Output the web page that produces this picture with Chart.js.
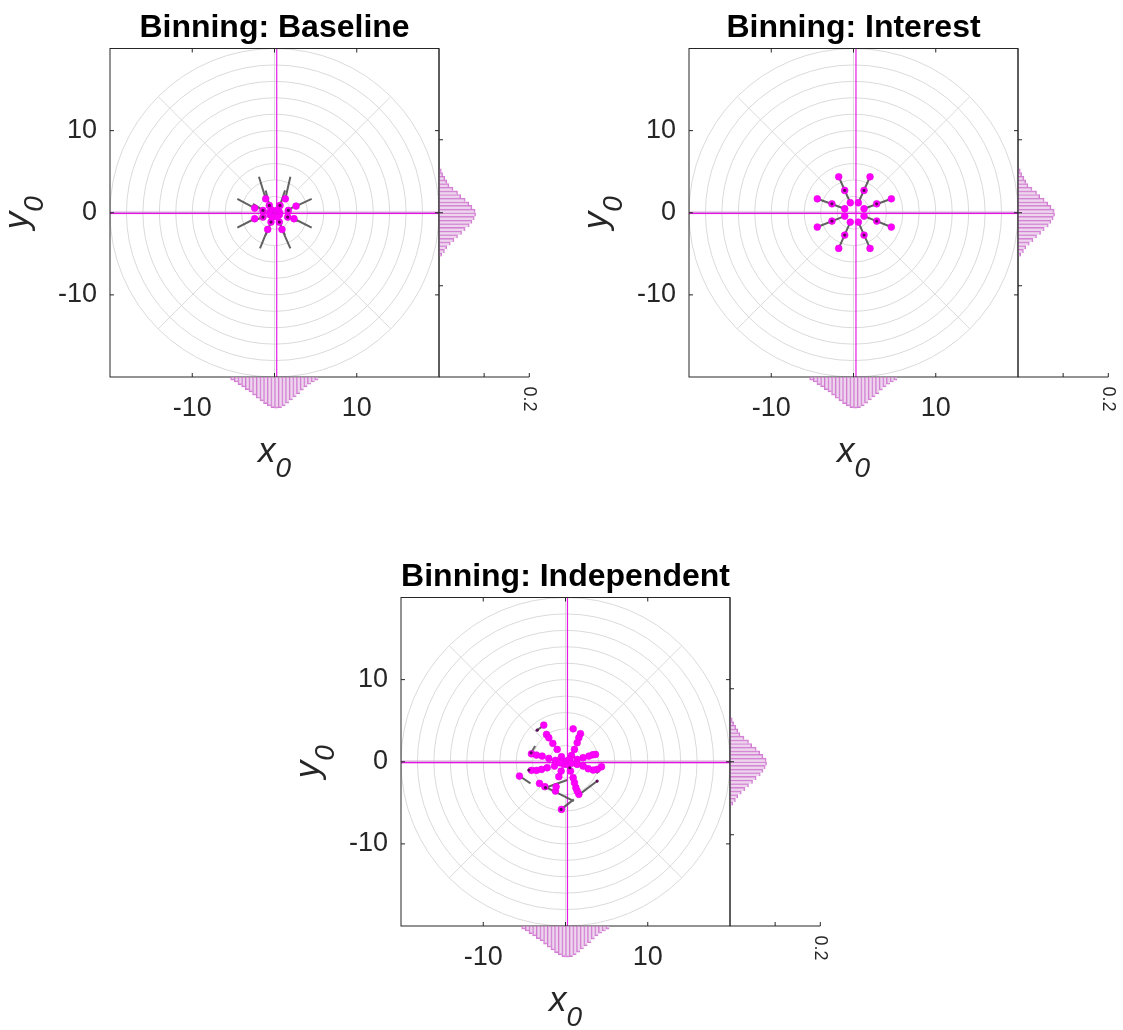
<!DOCTYPE html>
<html>
<head>
<meta charset="utf-8">
<script src="https://cdn.jsdelivr.net/npm/chart.js@4.4.1/dist/chart.umd.min.js"></script>
<style>
  html, body { margin: 0; padding: 0; background: #fff; }
  body { width: 1123px; height: 1030px; position: relative; overflow: hidden; }
  .panel { position: absolute; width: 560px; height: 500px; }
  .panel canvas { position: absolute; }
</style>
</head>
<body>
<div class="panel" id="p1" style="left:0px;top:0px"></div>
<div class="panel" id="p2" style="left:579px;top:0px"></div>
<div class="panel" id="p3" style="left:290.5px;top:549px"></div>
<script>
// ---- polar reference grid and axis ticks ----
const gridRadii = [2, 4, 6, 8, 10, 12, 14, 16, 18, 20];
const spokeAngles = [0, 45, 90, 135, 180, 225, 270, 315];
const spokeInner = 4;
const axisTicks = [-10, 0, 10];
const histTicks = [0.1, 0.2];
const histTickLabel = 0.2;

// ---- marginal histograms (bin centres, probability per bin) ----
const binCenters = [-5.75, -5.25, -4.75, -4.25, -3.75, -3.25, -2.75, -2.25, -1.75, -1.25, -0.75, -0.25,
                     0.25, 0.75, 1.25, 1.75, 2.25, 2.75, 3.25, 3.75, 4.25, 4.75, 5.25, 5.75];
const yHist = [0.006, 0.012, 0.017, 0.025, 0.033, 0.041, 0.050, 0.058, 0.067, 0.073, 0.078, 0.081,
               0.080, 0.073, 0.066, 0.058, 0.048, 0.041, 0.031, 0.022, 0.017, 0.013, 0.008, 0.005];
const xHist = [0.007, 0.011, 0.017, 0.022, 0.028, 0.033, 0.040, 0.047, 0.053, 0.059, 0.064, 0.068,
               0.069, 0.068, 0.064, 0.058, 0.051, 0.044, 0.037, 0.029, 0.022, 0.016, 0.011, 0.007];

// ---- Baseline ----
const baselineX = [-1.07, 1.32, -2.41, 2.62, -2.41, 2.37, -0.83, 0.91,
                   -0.63, 0.67, -1.40, 1.68, -1.40, 1.60, -0.43, 0.59,
                   -0.34, 0.34, -0.55, 0.59, -0.55, 0.59, -0.26, 0.34];
const baselineY = [1.70, 1.70, 0.57, 0.81, -0.73, -0.73, -2.03, -2.03,
                   0.89, 0.89, 0.28, 0.28, -0.53, -0.53, -1.14, -1.14,
                   0.32, 0.32, 0.08, 0.08, -0.24, -0.24, -0.53, -0.53];
const baselineDarkX = [-0.63, 0.67, -1.40, 1.68, -1.40, 1.60, -0.43, 0.59];
const baselineDarkY = [0.89, 0.89, 0.28, 0.28, -0.53, -0.53, -1.14, -1.14];
const baselineSegs = [
  [-1.89, 4.38, -1.07, 1.70], [1.93, 4.38, 1.32, 1.70],
  [-4.52, 1.70, -2.41, 0.57], [4.52, 1.70, 2.62, 0.81],
  [-4.52, -1.82, -2.41, -0.73], [4.52, -1.82, 2.37, -0.73],
  [-1.76, -4.34, -0.83, -2.03], [1.93, -4.34, 0.91, -2.03],
  [-1.07, 2.72, -0.63, 0.89], [1.28, 2.72, 0.67, 0.89],
  [-2.62, 1.09, -1.40, 0.28], [2.82, 1.09, 1.68, 0.28],
  [-2.62, -1.01, -1.40, -0.53], [2.82, -1.01, 1.60, -0.53],
  [-1.07, -2.72, -0.43, -1.14], [1.28, -2.72, 0.59, -1.14]
];
const baselineMean = [0.27, -0.08];

// ---- Interest ----
const interestX = [-1.80, 2.01, -4.40, 4.60, -4.40, 4.60, -1.80, 2.01,
                   -1.07, 1.28, -2.62, 2.82, -2.62, 2.82, -1.07, 1.28,
                   -0.39, 0.59, -1.07, 1.28, -1.07, 1.28, -0.39, 0.59];
const interestY = [4.38, 4.38, 1.70, 1.70, -1.74, -1.74, -4.34, -4.34,
                   2.72, 2.72, 1.09, 1.09, -1.01, -1.01, -2.72, -2.72,
                   1.22, 1.22, 0.49, 0.49, -0.41, -0.41, -1.14, -1.14];
const interestDarkX = [-1.07, 1.28, -2.62, 2.82, -2.62, 2.82, -1.07, 1.28];
const interestDarkY = [2.72, 2.72, 1.09, 1.09, -1.01, -1.01, -2.72, -2.72];
const interestSegs = [
  [-1.80, 4.38, -0.39, 1.22], [2.01, 4.38, 0.59, 1.22],
  [-4.40, 1.70, -1.07, 0.49], [4.60, 1.70, 1.28, 0.49],
  [-4.40, -1.74, -1.07, -0.41], [4.60, -1.74, 1.28, -0.41],
  [-1.80, -4.34, -0.39, -1.14], [2.01, -4.34, 0.59, -1.14]
];
const interestMean = [0.30, -0.08];

// ---- Independent ----
const independentX = [-2.64, -2.31, -2.03, -1.54, -1.01, -0.49,
                      0.93, 1.82, 1.62, 1.42, 1.09, 0.73,
                      -4.14, -3.53, -2.84, -2.03, -1.22,
                      3.65, 3.33, 2.84, 2.15, 1.42,
                      -4.14, -3.53, -2.92, -2.23, -1.34,
                      4.38, 3.85, 3.37, 2.76, 2.15, 1.42,
                      -5.60, -3.16, -2.51, -1.22, -1.14, -0.81, -0.53,
                      -0.49, 1.62, 1.42, 1.26, 1.09, 0.93, 0.61,
                      -0.41, 0.08, 0.49, -0.20, 0.28, -0.69, 0.69];
const independentY = [4.46, 3.33, 2.92, 2.23, 1.50, 0.61,
                      4.01, 3.41, 2.92, 2.31, 1.50, 0.77,
                      0.97, 0.81, 0.69, 0.41, 0.16,
                      0.89, 0.85, 0.69, 0.49, 0.28,
                      -1.05, -1.05, -0.93, -0.73, -0.53,
                      -0.61, -0.93, -1.01, -0.85, -0.53, -0.32,
                      -1.74, -2.64, -3.04, -3.57, -3.04, -1.82, -1.14,
                      -5.80, -3.97, -3.57, -3.16, -2.55, -1.95, -1.14,
                      0.08, 0.08, 0.28, -0.32, -0.32, -0.12, -0.20];
const independentDarkX = [-3.45, -4.18, -4.46, -2.43, -0.53, 3.85, 0.53];
const independentDarkY = [3.85, 1.09, -1.01, -3.16, -5.80, -2.35, -0.73];
const independentSegs = [
  [-3.45, 3.85, -2.76, 4.34], [-4.18, 1.09, -3.69, 1.91],
  [-4.46, -1.01, -3.73, -1.09], [-5.60, -1.74, -4.26, -2.64],
  [-2.43, -3.16, 0.20, -2.23], [-2.51, -3.04, 1.01, -4.79],
  [-0.53, -5.80, 1.01, -4.58], [1.42, -4.18, 3.85, -2.35],
  [3.77, -1.42, 4.38, -0.73], [0.53, -0.73, 0.69, -1.42]
];
const independentMean = [0.24, -0.10];

// ---- styling ----
const FONT = "'Liberation Sans', Arial, Helvetica, sans-serif";
const INK = '#262626';
const MAGENTA = '#ff00ff';
const HIST_FILL = 'rgba(222, 178, 222, 0.55)';
const HIST_EDGE = 'rgba(200, 90, 200, 0.8)';

const MAIN_W = 450, MAIN_H = 490;
const BOX_L = 110, BOX_R = 439, BOX_T = 48.5, BOX_B = 377;
const TITLE_SIZE = 32, TITLE_PAD_TOP = 8.6;

function toXY(xs, ys) { return xs.map((v, i) => ({ x: v, y: ys[i] })); }
function segPoints(segs) {
  const out = [];
  segs.forEach(s => { out.push({ x: s[0], y: s[1] }, { x: s[2], y: s[3] }, { x: null, y: null }); });
  return out;
}
function makeCanvas(parent, left, top, w, h) {
  const c = document.createElement('canvas');
  c.width = w; c.height = h;
  c.style.left = left + 'px'; c.style.top = top + 'px';
  c.style.width = w + 'px'; c.style.height = h + 'px';
  parent.appendChild(c);
  return c;
}

// concentric circles and spokes behind the data
const polarGrid = {
  id: 'polarGrid',
  beforeDatasetsDraw(chart) {
    const { ctx, chartArea: a, scales: { x, y } } = chart;
    ctx.save();
    ctx.beginPath(); ctx.rect(a.left, a.top, a.width, a.height); ctx.clip();
    ctx.strokeStyle = '#dadada'; ctx.lineWidth = 1;
    const cx = x.getPixelForValue(0), cy = y.getPixelForValue(0);
    gridRadii.forEach(r => {
      const rx = x.getPixelForValue(r) - cx, ry = cy - y.getPixelForValue(r);
      ctx.beginPath(); ctx.ellipse(cx, cy, rx, ry, 0, 0, Math.PI * 2); ctx.stroke();
    });
    const rMax = gridRadii[gridRadii.length - 1];
    spokeAngles.forEach(d => {
      const t = d * Math.PI / 180, c = Math.cos(t), s = Math.sin(t);
      ctx.beginPath();
      ctx.moveTo(x.getPixelForValue(spokeInner * c), y.getPixelForValue(spokeInner * s));
      ctx.lineTo(x.getPixelForValue(rMax * c), y.getPixelForValue(rMax * s));
      ctx.stroke();
    });
    ctx.restore();
  }
};

// box, inward tick marks and subscripted axis titles
const frame = {
  id: 'frame',
  afterDraw(chart) {
    const { ctx, chartArea: a, scales: { x, y } } = chart;
    ctx.save();
    ctx.strokeStyle = INK; ctx.lineWidth = 1;
    ctx.strokeRect(a.left, a.top, a.width, a.height);
    const tl = 4;
    ctx.beginPath();
    axisTicks.forEach(v => {
      const px = x.getPixelForValue(v), py = y.getPixelForValue(v);
      ctx.moveTo(px, a.bottom); ctx.lineTo(px, a.bottom - tl);
      ctx.moveTo(px, a.top); ctx.lineTo(px, a.top + tl);
      ctx.moveTo(a.left, py); ctx.lineTo(a.left + tl, py);
      ctx.moveTo(a.right, py); ctx.lineTo(a.right - tl, py);
    });
    ctx.stroke();

    ctx.fillStyle = INK;
    ctx.textBaseline = 'alphabetic'; ctx.textAlign = 'left';
    const drawSub = (main, sub) => {
      ctx.font = 'italic 35px ' + FONT;
      const w1 = ctx.measureText(main).width;
      ctx.font = 'italic 28px ' + FONT;
      const w2 = ctx.measureText(sub).width;
      const x0 = -(w1 + w2) / 2;
      ctx.font = 'italic 35px ' + FONT;
      ctx.fillText(main, x0, 0);
      ctx.font = 'italic 28px ' + FONT;
      ctx.fillText(sub, x0 + w1, 15);
    };
    const cx = (a.left + a.right) / 2, cy = (a.top + a.bottom) / 2;
    ctx.save(); ctx.translate(cx, a.bottom + 84.7); drawSub('x', '0'); ctx.restore();
    ctx.save(); ctx.translate(28.3, cy); ctx.rotate(-Math.PI / 2); drawSub('y', '0'); ctx.restore();
    ctx.restore();
  }
};

function mainChart(parent, title, xs, ys, dxs, dys, segs, mean) {
  const c = makeCanvas(parent, 0, 0, MAIN_W, MAIN_H);
  return new Chart(c, {
    type: 'scatter',
    data: {
      datasets: [
        { type: 'line', data: [{ x: mean[0], y: -20 }, { x: mean[0], y: 20 }], borderColor: 'rgba(230,0,230,0.9)', borderWidth: 1.2, pointRadius: 0, order: 5 },
        { type: 'line', data: [{ x: -20, y: 0 }, { x: 20, y: 0 }], borderColor: 'rgba(200,120,200,0.45)', borderWidth: 3, pointRadius: 0, order: 6 },
        { type: 'line', data: [{ x: -20, y: mean[1] }, { x: 20, y: mean[1] }], borderColor: 'rgba(230,0,230,0.9)', borderWidth: 1.2, pointRadius: 0, order: 5 },
        { type: 'line', data: segPoints(segs), borderColor: 'rgba(70,70,70,0.85)', borderWidth: 2, pointRadius: 0, spanGaps: false, order: 3 },
        { data: toXY(xs, ys), pointRadius: 3.4, pointBackgroundColor: MAGENTA, pointBorderColor: '#e000e0', pointBorderWidth: 0.6, order: 2 },
        { data: toXY(dxs, dys), pointRadius: 1.6, pointBackgroundColor: '#5a0a5a', pointBorderWidth: 0, order: 1 }
      ]
    },
    options: {
      responsive: false, animation: false, devicePixelRatio: 1,
      layout: { padding: { left: 0, right: MAIN_W - BOX_R, top: 0, bottom: 0 } },
      plugins: {
        legend: { display: false }, tooltip: { enabled: false },
        title: {
          display: true, text: title, fullSize: false, color: '#000',
          font: { family: FONT, size: TITLE_SIZE, weight: 'bold', lineHeight: 1.2 },
          padding: { top: TITLE_PAD_TOP, bottom: BOX_T - TITLE_PAD_TOP - TITLE_SIZE * 1.2 }
        }
      },
      scales: {
        x: {
          type: 'linear', min: -20, max: 20,
          afterBuildTicks: s => { s.ticks = axisTicks.map(v => ({ value: v })); },
          afterFit: s => { s.height = MAIN_H - BOX_B; },
          grid: { display: false, drawTicks: false }, border: { display: false },
          ticks: { font: { family: FONT, size: 27 }, color: INK, padding: 15, maxRotation: 0, autoSkip: false,
                   callback: v => (v === 0 ? '' : String(v)) }
        },
        y: {
          type: 'linear', min: -20, max: 20,
          afterBuildTicks: s => { s.ticks = axisTicks.map(v => ({ value: v })); },
          afterFit: s => { s.width = BOX_L; },
          grid: { display: false, drawTicks: false }, border: { display: false },
          ticks: { font: { family: FONT, size: 27 }, color: INK, padding: 13, autoSkip: false,
                   callback: v => String(v) }
        }
      }
    },
    plugins: [polarGrid, frame]
  });
}

// right-hand marginal: spines, inward ticks and the rotated end label
const histFrame = {
  id: 'histFrame',
  afterDraw(chart) {
    const { ctx, chartArea: a, scales: { x, y } } = chart;
    ctx.save();
    ctx.strokeStyle = INK; ctx.lineWidth = 1;
    ctx.beginPath();
    ctx.moveTo(a.left, a.top); ctx.lineTo(a.left, a.bottom); ctx.lineTo(a.right, a.bottom);
    histTicks.forEach(v => { const px = x.getPixelForValue(v); ctx.moveTo(px, a.bottom); ctx.lineTo(px, a.bottom - 4); });
    axisTicks.forEach(v => { const py = y.getPixelForValue(v); ctx.moveTo(a.left, py); ctx.lineTo(a.left + 4, py); });
    ctx.stroke();
    ctx.fillStyle = INK; ctx.font = '18px ' + FONT;
    ctx.translate(x.getPixelForValue(histTickLabel), a.bottom + 9.5);
    ctx.rotate(Math.PI / 2);
    ctx.textAlign = 'left'; ctx.textBaseline = 'middle';
    ctx.fillText(String(histTickLabel), 0, 0);
    ctx.restore();
  }
};

function rightHist(parent) {
  const W = 140, left = 420;
  const c = makeCanvas(parent, left, 0, W, MAIN_H);
  const aL = BOX_R - left, aR = aL + 90.3;
  return new Chart(c, {
    type: 'bar',
    data: { datasets: [{
      data: binCenters.map((b, i) => ({ x: yHist[i], y: b })),
      backgroundColor: HIST_FILL, borderColor: HIST_EDGE,
      borderWidth: { top: 1, right: 1, bottom: 0, left: 0 }, borderSkipped: false,
      barPercentage: 1, categoryPercentage: 1
    }] },
    options: {
      indexAxis: 'y', responsive: false, animation: false, devicePixelRatio: 1,
      layout: { padding: { left: aL, right: W - aR, top: BOX_T, bottom: MAIN_H - BOX_B } },
      plugins: { legend: { display: false }, tooltip: { enabled: false } },
      scales: {
        x: { type: 'linear', min: 0, max: 0.2, display: false },
        y: { type: 'linear', min: -20, max: 20, display: false }
      }
    },
    plugins: [histFrame]
  });
}

function bottomHist(parent) {
  const left = 100, top = 370, W = 350, H = 100;
  const c = makeCanvas(parent, left, top, W, H);
  const aT = BOX_B - top;
  return new Chart(c, {
    type: 'bar',
    data: { datasets: [{
      data: binCenters.map((b, i) => ({ x: b, y: xHist[i] })),
      backgroundColor: HIST_FILL, borderColor: HIST_EDGE,
      borderWidth: { top: 0, right: 0, bottom: 1, left: 1 }, borderSkipped: false,
      barPercentage: 1, categoryPercentage: 1
    }] },
    options: {
      responsive: false, animation: false, devicePixelRatio: 1,
      layout: { padding: { left: BOX_L - left, right: W - (BOX_R - left), top: aT, bottom: H - aT - 90.3 } },
      plugins: { legend: { display: false }, tooltip: { enabled: false } },
      scales: {
        x: { type: 'linear', min: -20, max: 20, display: false },
        y: { type: 'linear', min: 0, max: 0.2, reverse: true, display: false }
      }
    }
  });
}

const panels = [
  { el: 'p1', title: 'Binning: Baseline', xs: baselineX, ys: baselineY, dx: baselineDarkX, dy: baselineDarkY, segs: baselineSegs, mean: baselineMean },
  { el: 'p2', title: 'Binning: Interest', xs: interestX, ys: interestY, dx: interestDarkX, dy: interestDarkY, segs: interestSegs, mean: interestMean },
  { el: 'p3', title: 'Binning: Independent', xs: independentX, ys: independentY, dx: independentDarkX, dy: independentDarkY, segs: independentSegs, mean: independentMean }
];
panels.forEach(p => {
  const host = document.getElementById(p.el);
  mainChart(host, p.title, p.xs, p.ys, p.dx, p.dy, p.segs, p.mean);
  bottomHist(host);
  rightHist(host);
});
</script>
</body>
</html>
